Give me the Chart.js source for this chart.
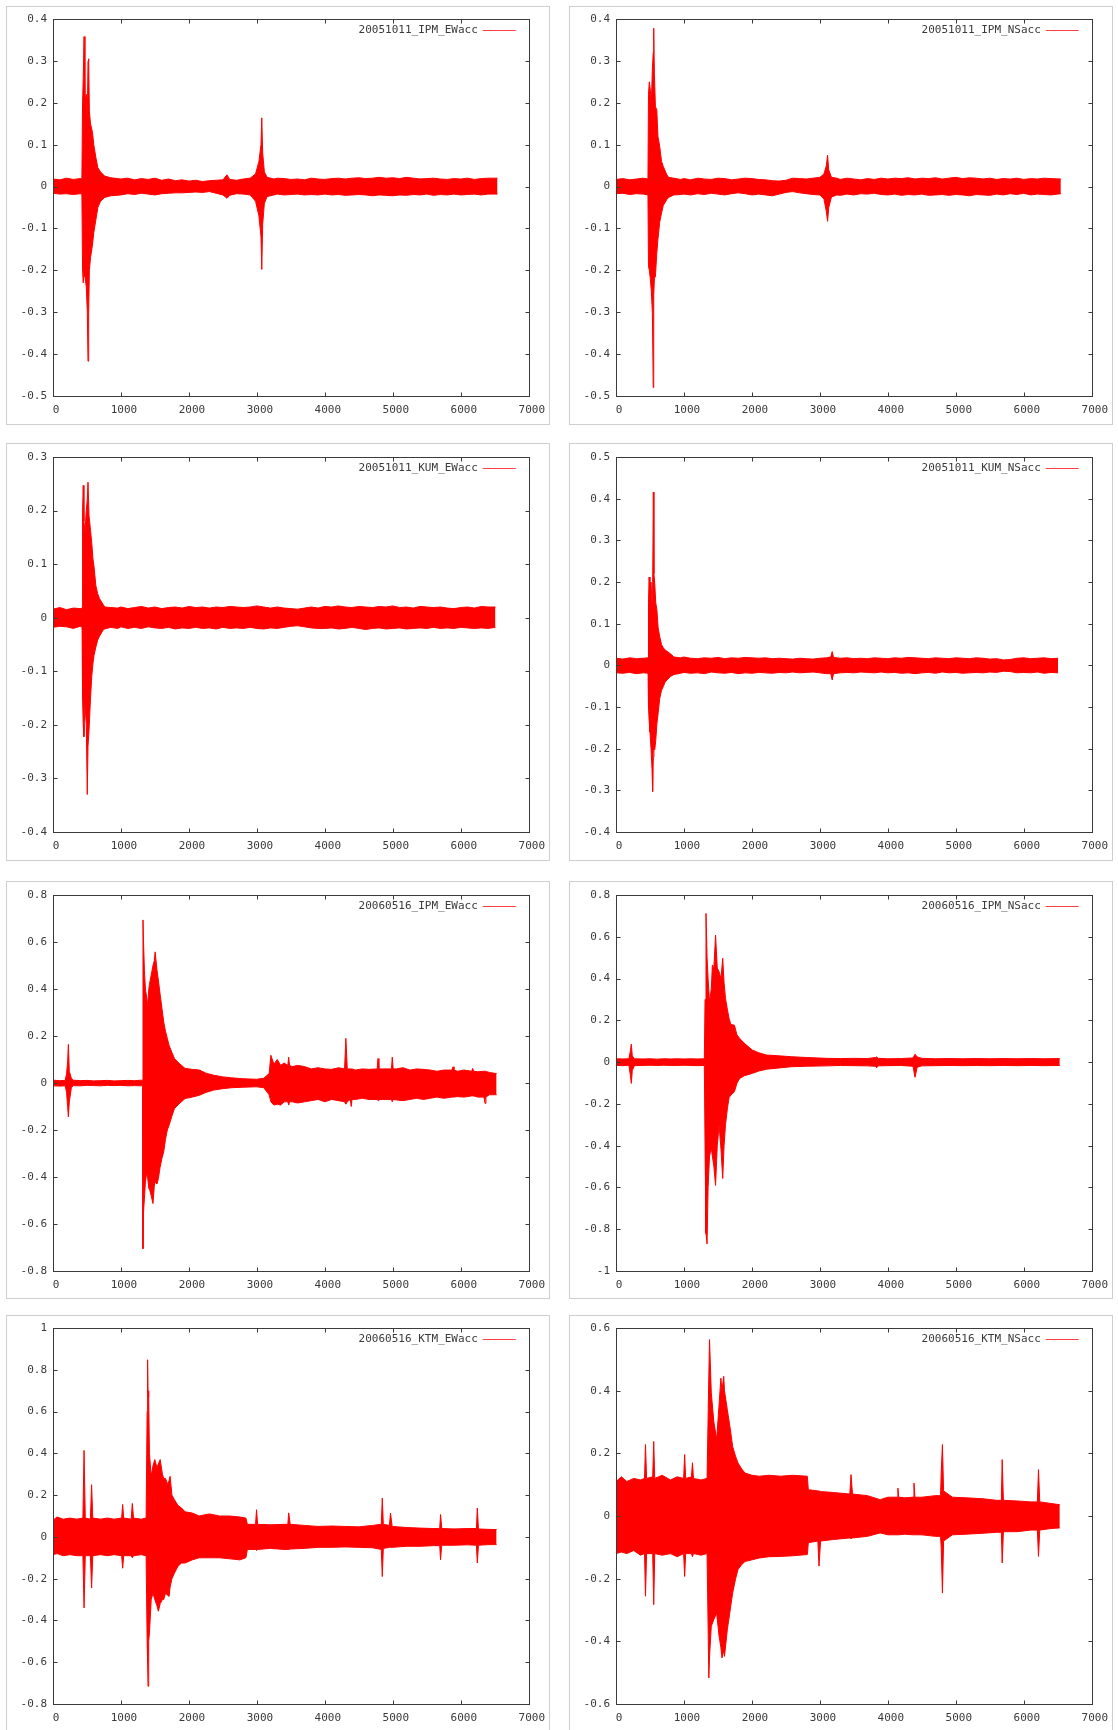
<!DOCTYPE html>
<html>
<head>
<meta charset="utf-8">
<script src="https://cdn.jsdelivr.net/npm/chart.js@4.4.1/dist/chart.umd.min.js"></script>
<style>
  html, body { margin: 0; padding: 0; background: #fff; }
  body { width: 1118px; height: 1730px; position: relative; overflow: hidden; }
  .panel { position: absolute; outline: 1px solid #cfcfcf; outline-offset: -1px; }
  .panel canvas { position: absolute; left: 0; top: 0; }
</style>
</head>
<body>
<script>
// ═══ DATA: envelope of each trace (time, upper, lower) ═══
const seriesNames = ['20051011_IPM_EWacc', '20051011_IPM_NSacc', '20051011_KUM_EWacc', '20051011_KUM_NSacc',
                     '20060516_IPM_EWacc', '20060516_IPM_NSacc', '20060516_KTM_EWacc', '20060516_KTM_NSacc'];
const yMin  = [-0.5, -0.5, -0.4, -0.4, -0.8, -1, -0.8, -0.6];
const yMax  = [0.4, 0.4, 0.3, 0.5, 0.8, 0.8, 1, 0.6];
const yStep = [0.1, 0.1, 0.1, 0.1, 0.2, 0.2, 0.2, 0.2];
const xTickMin = 0, xTickMax = 7000, xTickStep = 1000;

const ipmEW05T  = [0,100,200,300,400,425,435,445,457,470,490,505,515,525,535,552,580,600,630,660,700,760,850,1000,1100,1200,1300,1400,1500,1600,1700,1800,1900,2000,2100,2200,2300,2400,2500,2560,2600,2700,2800,2900,2980,3030,3060,3072,3085,3110,3150,3250,3300,3400,3500,3600,3700,3800,3900,4000,4100,4200,4300,4400,4500,4600,4700,4800,4900,5000,5100,5200,5300,5400,5500,5600,5700,5800,5900,6000,6100,6200,6300,6400,6540];
const ipmEW05Hi = [.018,.016,.02,.017,.019,.018,.2,.26,.358,.2,.22,.16,.3,.305,.18,.15,.13,.1,.07,.045,.035,.025,.021,.018,.02,.016,.019,.017,.02,.015,.018,.014,.016,.013,.015,.012,.014,.015,.016,.028,.017,.015,.018,.02,.03,.06,.1,.164,.08,.035,.022,.018,.02,.019,.017,.018,.016,.02,.018,.017,.019,.02,.018,.02,.021,.019,.02,.022,.02,.021,.019,.022,.02,.018,.019,.02,.018,.017,.019,.018,.02,.017,.019,.02,.02];
const ipmEW05Lo = [-.016,-.018,-.017,-.019,-.017,-.018,-.2,-.23,-.2,-.215,-.24,-.3,-.417,-.3,-.2,-.17,-.14,-.11,-.08,-.05,-.035,-.026,-.022,-.02,-.017,-.019,-.016,-.018,-.02,-.017,-.016,-.015,-.015,-.014,-.013,-.014,-.012,-.016,-.02,-.028,-.021,-.017,-.018,-.02,-.035,-.07,-.12,-.198,-.09,-.04,-.024,-.02,-.018,-.02,-.019,-.018,-.02,-.019,-.02,-.018,-.02,-.019,-.021,-.02,-.019,-.02,-.022,-.02,-.021,-.022,-.02,-.021,-.019,-.02,-.018,-.021,-.019,-.02,-.018,-.02,-.019,-.018,-.02,-.018,-.018];

const ipmNS05T  = [0,100,200,300,400,470,478,490,505,520,535,548,555,565,580,600,617,643,670,696,748,774,850,950,1000,1100,1200,1300,1400,1500,1600,1700,1800,1900,2000,2100,2200,2300,2400,2500,2600,2700,2800,2900,3000,3060,3095,3113,3130,3170,3250,3300,3400,3500,3600,3700,3800,3900,4000,4100,4200,4300,4400,4500,4600,4700,4800,4900,5000,5100,5200,5300,5400,5500,5600,5700,5800,5900,6000,6100,6200,6300,6400,6545];
const ipmNS05Hi = [.017,.019,.016,.018,.02,.018,.22,.25,.23,.2,.28,.32,.378,.27,.19,.184,.12,.096,.06,.048,.028,.022,.02,.017,.019,.016,.02,.018,.017,.02,.019,.016,.018,.02,.019,.017,.016,.014,.013,.015,.02,.019,.018,.02,.022,.03,.05,.075,.04,.022,.02,.017,.02,.018,.016,.019,.017,.02,.018,.02,.019,.021,.018,.02,.019,.021,.018,.02,.022,.019,.021,.02,.018,.02,.017,.019,.018,.02,.017,.019,.018,.02,.019,.018];
const ipmNS05Lo = [-.017,-.016,-.019,-.017,-.018,-.02,-.19,-.2,-.22,-.25,-.3,-.48,-.26,-.22,-.214,-.16,-.126,-.085,-.063,-.045,-.031,-.026,-.02,-.019,-.018,-.02,-.017,-.019,-.016,-.018,-.02,-.017,-.015,-.017,-.02,-.018,-.02,-.022,-.018,-.014,-.012,-.015,-.017,-.019,-.02,-.03,-.06,-.083,-.05,-.025,-.02,-.021,-.018,-.02,-.017,-.018,-.016,-.019,-.02,-.018,-.021,-.019,-.02,-.018,-.021,-.02,-.019,-.021,-.019,-.02,-.022,-.019,-.02,-.021,-.018,-.02,-.017,-.019,-.016,-.02,-.018,-.019,-.02,-.017];

const kumEW05T  = [0,100,200,300,400,428,435,445,455,470,490,504,515,530,552,570,588,604,630,657,683,736,762,850,950,1000,1100,1200,1300,1400,1500,1600,1700,1800,1900,2000,2100,2200,2300,2400,2500,2600,2700,2800,2900,3000,3100,3200,3300,3400,3500,3600,3700,3800,3900,4000,4100,4200,4300,4400,4500,4600,4700,4800,4900,5000,5100,5200,5300,5400,5500,5600,5700,5800,5900,6000,6100,6200,6300,6400,6510];
const kumEW05Hi = [.016,.019,.015,.018,.017,.018,.2,.247,.18,.16,.2,.22,.253,.19,.163,.14,.11,.095,.06,.045,.036,.025,.02,.019,.018,.02,.017,.019,.021,.018,.02,.017,.019,.02,.018,.021,.019,.02,.018,.02,.019,.021,.02,.019,.02,.022,.02,.018,.02,.018,.017,.016,.018,.02,.018,.021,.02,.022,.02,.019,.021,.02,.019,.021,.02,.022,.019,.02,.018,.021,.02,.019,.02,.018,.017,.019,.02,.018,.021,.02,.02];
const kumEW05Lo = [-.018,-.016,-.017,-.02,-.016,-.018,-.15,-.2,-.222,-.16,-.2,-.33,-.24,-.21,-.15,-.11,-.085,-.07,-.055,-.042,-.035,-.023,-.021,-.018,-.02,-.017,-.02,-.018,-.02,-.017,-.019,-.02,-.018,-.021,-.019,-.02,-.018,-.02,-.019,-.021,-.018,-.02,-.019,-.02,-.018,-.02,-.021,-.019,-.02,-.018,-.016,-.015,-.017,-.019,-.02,-.02,-.019,-.021,-.02,-.018,-.02,-.022,-.02,-.019,-.021,-.02,-.019,-.021,-.02,-.019,-.02,-.018,-.02,-.019,-.02,-.018,-.019,-.02,-.019,-.02,-.018];

const kumNS05T  = [0,100,200,300,400,472,478,487,500,515,530,539,549,558,570,585,602,620,643,670,696,722,800,853,950,1000,1100,1200,1300,1400,1500,1600,1700,1800,1900,2000,2100,2200,2300,2400,2500,2600,2700,2800,2900,3000,3100,3160,3181,3200,3300,3400,3500,3600,3700,3800,3900,4000,4100,4200,4300,4400,4500,4600,4700,4800,4900,5000,5100,5200,5300,5400,5500,5600,5700,5800,5900,6000,6100,6200,6300,6400,6505];
const kumNS05Hi = [.017,.015,.018,.016,.017,.018,.15,.212,.17,.2,.15,.18,.416,.22,.196,.15,.133,.09,.069,.05,.042,.037,.028,.02,.018,.02,.017,.016,.018,.017,.019,.016,.018,.017,.019,.018,.017,.018,.016,.017,.016,.015,.017,.016,.015,.017,.018,.02,.033,.019,.017,.018,.016,.017,.016,.018,.017,.016,.018,.017,.019,.018,.017,.016,.018,.017,.016,.018,.017,.016,.018,.017,.015,.016,.013,.014,.017,.018,.016,.017,.018,.016,.017];
const kumNS05Lo = [-.018,-.019,-.017,-.02,-.018,-.019,-.1,-.131,-.16,-.2,-.25,-.303,-.22,-.2,-.203,-.18,-.14,-.115,-.08,-.06,-.051,-.04,-.027,-.022,-.019,-.017,-.019,-.018,-.02,-.016,-.018,-.019,-.017,-.02,-.018,-.019,-.017,-.018,-.019,-.017,-.018,-.016,-.018,-.017,-.016,-.018,-.02,-.02,-.035,-.02,-.018,-.017,-.018,-.016,-.017,-.018,-.016,-.018,-.017,-.019,-.018,-.02,-.018,-.017,-.019,-.016,-.018,-.017,-.019,-.018,-.017,-.018,-.016,-.017,-.014,-.015,-.018,-.017,-.018,-.016,-.019,-.017,-.018];

const ipmEW06T  = [0,100,180,200,215,226,240,270,300,400,500,600,700,800,900,1000,1100,1200,1300,1318,1324,1332,1345,1360,1380,1392,1410,1419,1445,1471,1490,1503,1530,1550,1575,1603,1629,1655,1682,1708,1750,1787,1850,1944,2050,2155,2250,2365,2500,2628,2800,2995,3100,3180,3206,3250,3300,3350,3400,3455,3468,3480,3520,3600,3700,3800,3900,4000,4100,4200,4290,4309,4330,4375,4388,4400,4450,4550,4650,4770,4782,4795,4850,4980,4992,5005,5050,5150,5250,5350,5450,5550,5650,5750,5870,5886,5900,5950,6050,6160,6175,6190,6250,6340,6358,6370,6420,6527];
const ipmEW06Hi = [.012,.01,.011,.04,.09,.164,.05,.02,.012,.01,.011,.009,.01,.011,.009,.01,.011,.01,.012,.012,.694,.6,.48,.4,.36,.33,.4,.42,.46,.5,.52,.558,.48,.438,.38,.318,.26,.22,.19,.16,.13,.104,.085,.062,.058,.055,.042,.033,.026,.022,.018,.016,.02,.04,.118,.08,.1,.075,.085,.075,.11,.075,.07,.075,.07,.06,.065,.06,.058,.065,.06,.19,.06,.06,.06,.06,.055,.06,.058,.06,.104,.06,.06,.06,.11,.06,.06,.065,.055,.06,.058,.055,.05,.055,.055,.069,.055,.05,.055,.05,.062,.05,.048,.05,.05,.05,.045,.04];
const ipmEW06Lo = [-.012,-.013,-.012,-.04,-.1,-.144,-.08,-.02,-.011,-.012,-.01,-.011,-.012,-.01,-.011,-.01,-.012,-.011,-.012,-.012,-.705,-.55,-.49,-.42,-.38,-.4,-.45,-.45,-.48,-.513,-.44,-.42,-.43,-.407,-.36,-.32,-.293,-.24,-.2,-.18,-.14,-.109,-.09,-.066,-.06,-.052,-.04,-.03,-.024,-.02,-.018,-.016,-.02,-.05,-.08,-.094,-.09,-.094,-.08,-.08,-.094,-.08,-.08,-.085,-.08,-.075,-.07,-.08,-.07,-.075,-.08,-.09,-.08,-.07,-.1,-.07,-.07,-.065,-.07,-.07,-.075,-.07,-.07,-.07,-.08,-.07,-.072,-.075,-.07,-.065,-.07,-.065,-.06,-.065,-.06,-.06,-.06,-.058,-.06,-.055,-.055,-.055,-.06,-.06,-.087,-.06,-.05,-.05];

const ipmNS06T  = [0,100,190,210,225,240,270,400,500,600,700,800,900,1000,1100,1200,1300,1310,1324,1340,1355,1376,1402,1418,1440,1465,1490,1517,1545,1570,1590,1611,1640,1664,1690,1742,1780,1821,1889,2004,2100,2213,2400,2579,2800,3102,3300,3500,3700,3820,3835,3860,4000,4200,4370,4400,4430,4500,4700,4900,5100,5300,5500,5700,5900,6100,6300,6530];
const ipmNS06Hi = [.016,.015,.016,.05,.086,.03,.016,.015,.016,.014,.016,.015,.016,.015,.016,.015,.016,.3,.712,.5,.4,.289,.35,.465,.45,.608,.45,.433,.4,.497,.38,.305,.25,.209,.18,.177,.13,.113,.09,.058,.045,.034,.03,.026,.022,.018,.017,.018,.017,.022,.025,.018,.016,.017,.02,.038,.025,.018,.016,.017,.016,.017,.016,.017,.016,.017,.016,.017];
const ipmNS06Lo = [-.016,-.017,-.015,-.06,-.102,-.04,-.017,-.016,-.015,-.016,-.015,-.016,-.016,-.015,-.016,-.017,-.016,-.4,-.82,-.87,-.6,-.45,-.41,-.45,-.5,-.59,-.4,-.3,-.42,-.557,-.4,-.3,-.22,-.17,-.158,-.142,-.1,-.078,-.065,-.054,-.043,-.034,-.028,-.022,-.02,-.018,-.016,-.017,-.018,-.02,-.027,-.018,-.017,-.016,-.02,-.073,-.025,-.018,-.017,-.016,-.017,-.016,-.017,-.016,-.017,-.016,-.017,-.016];

const ktmEW06T  = [0,60,150,250,350,440,457,475,550,568,585,700,800,900,1010,1025,1040,1150,1167,1185,1300,1370,1385,1392,1398,1408,1419,1445,1471,1498,1530,1550,1577,1610,1629,1655,1690,1708,1723,1750,1787,1840,1892,1944,2050,2150,2300,2450,2600,2750,2838,2860,2980,2995,3010,3200,3400,3455,3468,3490,3700,3900,4100,4300,4500,4700,4830,4845,4860,4950,4966,4990,5200,5400,5600,5690,5702,5720,5900,6100,6230,6243,6260,6400,6527];
const ktmEW06Hi = [.08,.095,.085,.09,.085,.09,.414,.09,.085,.25,.09,.085,.09,.085,.09,.155,.09,.085,.16,.09,.085,.09,.6,.848,.7,.67,.4,.29,.34,.37,.33,.35,.37,.3,.28,.28,.25,.27,.29,.2,.178,.15,.138,.12,.114,.1,.11,.1,.1,.095,.09,.06,.06,.13,.06,.058,.06,.06,.115,.06,.055,.05,.052,.05,.048,.055,.06,.186,.06,.055,.114,.05,.045,.042,.04,.04,.107,.04,.038,.04,.04,.138,.038,.036,.035];
const ktmEW06Lo = [-.085,-.08,-.09,-.085,-.09,-.09,-.34,-.09,-.09,-.245,-.09,-.085,-.09,-.085,-.09,-.15,-.09,-.09,-.1,-.09,-.085,-.09,-.5,-.6,-.715,-.5,-.46,-.3,-.27,-.3,-.33,-.356,-.32,-.3,-.3,-.27,-.28,-.285,-.24,-.2,-.173,-.14,-.125,-.125,-.11,-.1,-.1,-.1,-.105,-.11,-.1,-.06,-.06,-.065,-.06,-.055,-.06,-.06,-.06,-.058,-.055,-.05,-.05,-.048,-.05,-.052,-.06,-.19,-.055,-.05,-.05,-.05,-.045,-.045,-.042,-.042,-.11,-.04,-.04,-.038,-.04,-.125,-.04,-.037,-.037];

const ktmNS06T  = [0,80,160,260,360,420,434,450,540,555,570,680,800,900,995,1010,1025,1110,1125,1140,1250,1340,1366,1376,1402,1440,1481,1515,1543,1559,1585,1596,1638,1680,1716,1760,1795,1850,1899,2000,2108,2250,2422,2600,2815,2830,2970,2987,3010,3200,3440,3458,3480,3700,3887,4000,4135,4148,4160,4250,4370,4384,4398,4500,4700,4775,4785,4803,4820,4950,5150,5400,5600,5670,5682,5700,5900,6100,6200,6216,6235,6400,6530];
const ktmNS06Hi = [.11,.125,.11,.12,.115,.12,.228,.12,.125,.238,.12,.13,.115,.125,.12,.196,.12,.125,.17,.12,.115,.12,.45,.563,.393,.3,.244,.35,.44,.4,.446,.4,.339,.28,.222,.19,.169,.15,.137,.13,.127,.13,.127,.13,.127,.084,.08,.08,.078,.075,.07,.132,.07,.065,.052,.06,.06,.089,.06,.058,.06,.105,.06,.06,.065,.065,.14,.228,.08,.06,.058,.055,.05,.05,.18,.05,.048,.045,.045,.148,.045,.04,.036];
const ktmNS06Lo = [-.12,-.115,-.12,-.11,-.125,-.12,-.256,-.12,-.12,-.283,-.12,-.125,-.12,-.13,-.12,-.193,-.12,-.12,-.13,-.12,-.125,-.12,-.517,-.45,-.352,-.33,-.31,-.38,-.42,-.453,-.43,-.448,-.363,-.3,-.246,-.2,-.171,-.155,-.145,-.14,-.134,-.13,-.129,-.127,-.123,-.085,-.08,-.16,-.08,-.075,-.07,-.072,-.07,-.065,-.054,-.06,-.06,-.06,-.06,-.058,-.06,-.06,-.06,-.06,-.065,-.065,-.1,-.246,-.08,-.06,-.058,-.055,-.052,-.052,-.15,-.05,-.05,-.045,-.045,-.129,-.045,-.04,-.038];

const traces = [
  [ipmEW05T, ipmEW05Hi, ipmEW05Lo], [ipmNS05T, ipmNS05Hi, ipmNS05Lo],
  [kumEW05T, kumEW05Hi, kumEW05Lo], [kumNS05T, kumNS05Hi, kumNS05Lo],
  [ipmEW06T, ipmEW06Hi, ipmEW06Lo], [ipmNS06T, ipmNS06Hi, ipmNS06Lo],
  [ktmEW06T, ktmEW06Hi, ktmEW06Lo], [ktmNS06T, ktmNS06Hi, ktmNS06Lo]
];

// ═══ PANEL GEOMETRY ═══
const colX = [6, 569], colW = [544, 544], axisW = [47, 47], padRight = 20;
const rowY = [6, 443, 881, 1315], rowH = [419, 418, 418, 418], padTop = [13, 14, 14, 13], xAxisH = [29, 29, 28, 29];

Chart.defaults.font.family = '"DejaVu Sans Mono", monospace';
Chart.defaults.font.size = 11;
Chart.defaults.color = '#3a3a3a';

// gnuplot-like frame: box, inward mirrored ticks, key in the top right corner
const gnuFrame = {
  id: 'gnuFrame',
  afterDatasetsDraw(chart, args, opts) {
    const { ctx, chartArea: a, scales: { x, y } } = chart;
    const L = Math.round(a.left) + .5, R = Math.round(a.right) + .5;
    const T = Math.round(a.top) + .5, B = Math.round(a.bottom) + .5;
    ctx.save();
    ctx.strokeStyle = '#3a3a3a';
    ctx.lineWidth = 1;
    ctx.beginPath();
    y.ticks.forEach(t => {
      const py = Math.round(y.getPixelForValue(t.value)) + .5;
      ctx.moveTo(L, py); ctx.lineTo(L + 4, py);
      ctx.moveTo(R, py); ctx.lineTo(R - 4, py);
    });
    x.ticks.forEach(t => {
      const px = Math.round(x.getPixelForValue(t.value)) + .5;
      ctx.moveTo(px, B); ctx.lineTo(px, B - 4);
      ctx.moveTo(px, T); ctx.lineTo(px, T + 4);
    });
    ctx.stroke();
    ctx.strokeRect(L, T, R - L, B - T);
    // key
    const ky = Math.round(a.top + 11) + .5;
    ctx.font = '11px "DejaVu Sans Mono", monospace';
    ctx.fillStyle = '#3a3a3a';
    ctx.textAlign = 'right';
    ctx.textBaseline = 'middle';
    ctx.fillText(opts.label, a.right - 51, ky);
    ctx.strokeStyle = '#ff4040';
    ctx.beginPath();
    ctx.moveTo(a.right - 46, ky);
    ctx.lineTo(a.right - 13, ky);
    ctx.stroke();
    ctx.restore();
  }
};

function makePanel(i) {
  const row = Math.floor(i / 2), col = i % 2;
  const W = colW[col], H = rowH[row];
  const div = document.createElement('div');
  div.className = 'panel';
  Object.assign(div.style, { left: colX[col] + 'px', top: rowY[row] + 'px', width: W + 'px', height: H + 'px' });
  const cv = document.createElement('canvas');
  cv.width = W; cv.height = H;
  cv.style.width = W + 'px'; cv.style.height = H + 'px';
  div.appendChild(cv);
  document.body.appendChild(div);

  const [t, hi, lo] = traces[i];
  const line = { borderColor: '#ff0000', borderWidth: 1, pointRadius: 0, tension: 0 };

  new Chart(cv, {
    type: 'line',
    data: {
      datasets: [
        { ...line, label: seriesNames[i], data: t.map((v, k) => ({ x: v, y: hi[k] })), fill: '+1', backgroundColor: '#ff0000' },
        { ...line, label: seriesNames[i] + ' low', data: t.map((v, k) => ({ x: v, y: lo[k] })), fill: false }
      ]
    },
    options: {
      responsive: false,
      animation: false,
      events: [],
      layout: { padding: { top: padTop[row], right: padRight, left: 0, bottom: 0 } },
      plugins: { legend: { display: false }, tooltip: { enabled: false }, gnuFrame: { label: seriesNames[i] } },
      scales: {
        x: {
          type: 'linear', min: xTickMin, max: xTickMax,
          grid: { display: false, drawTicks: false }, border: { display: false },
          ticks: { stepSize: xTickStep, autoSkip: false, maxRotation: 0, padding: 8, labelOffset: 3, callback: v => String(v) },
          afterFit: s => { s.height = xAxisH[row]; }
        },
        y: {
          min: yMin[i], max: yMax[i],
          grid: { display: false, drawTicks: false }, border: { display: false },
          ticks: { stepSize: yStep[i], autoSkip: false, padding: 6, callback: v => String(Math.round(v * 100) / 100) },
          afterFit: s => { s.width = axisW[col]; }
        }
      }
    },
    plugins: [gnuFrame]
  });
}

for (let i = 0; i < 8; i++) makePanel(i);
</script>
</body>
</html>
